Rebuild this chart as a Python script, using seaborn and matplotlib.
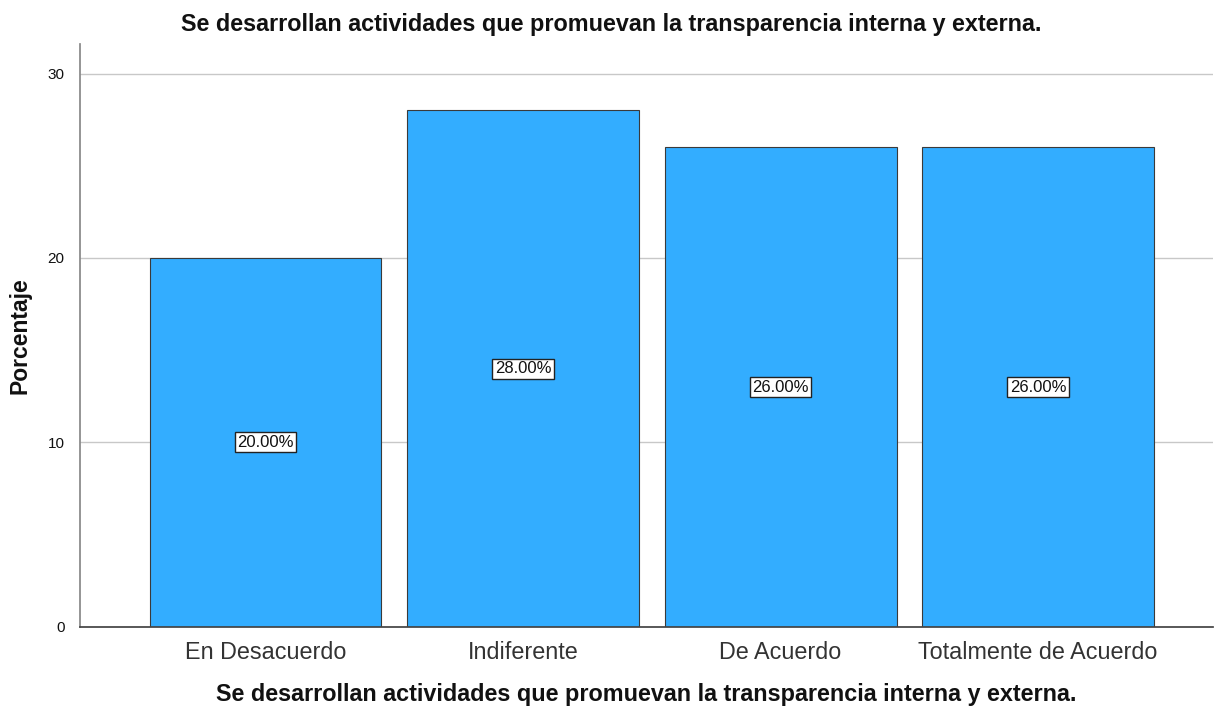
import matplotlib
matplotlib.use("Agg")
import matplotlib.pyplot as plt
import seaborn as sns
import pandas as pd

categorias = ["En Desacuerdo", "Indiferente", "De Acuerdo", "Totalmente de Acuerdo"]
porcentajes = [20.0, 28.0, 26.0, 26.0]

titulo = "Se desarrollan actividades que promuevan la transparencia interna y externa."

sns.set_theme(style="white")
plt.rcParams["font.family"] = ["Liberation Sans", "DejaVu Sans"]

df = pd.DataFrame({"categoria": categorias, "porcentaje": porcentajes})

fig = plt.figure(figsize=(12.16, 7.10), dpi=100)
ax = fig.add_axes([0.0658, 0.117, 0.932, 0.821])

sns.barplot(data=df, x="categoria", y="porcentaje", color="#33adff",
            saturation=1, width=0.9, edgecolor="#3a3a3a", linewidth=0.8, ax=ax)

for i, v in enumerate(porcentajes):
    ax.text(i, v / 2, f"{v:.2f}%", ha="center", va="center", fontsize=12,
            color="#111111",
            bbox=dict(boxstyle="square,pad=0.15", facecolor="white",
                      edgecolor="#222222", linewidth=1))

ax.set_ylim(0, 31.6)
ax.set_xlim(-0.72, 3.68)
ax.set_yticks([0, 10, 20, 30])
ax.yaxis.grid(True, color="#c8c8c8", linewidth=1)
ax.set_axisbelow(True)
ax.tick_params(axis="y", labelsize=11, length=5, color="#555555", pad=6,
               labelcolor="#111111")
ax.tick_params(axis="x", labelsize=16.8, length=0, pad=10, labelcolor="#333333")

for s in ["top", "right"]:
    ax.spines[s].set_visible(False)
ax.spines["left"].set_color("#888888")
ax.spines["bottom"].set_color("#444444")

fig.text(0.503, 0.966, titulo, ha="center", va="center", fontsize=16.8,
         fontweight="bold", color="#111111")
ax.set_xlabel(titulo, fontsize=16.8, fontweight="bold", labelpad=14, color="#111111")
ax.set_ylabel("Porcentaje", fontsize=16.5, fontweight="bold", labelpad=12, color="#111111")

fig.savefig("out.png", dpi=100)
